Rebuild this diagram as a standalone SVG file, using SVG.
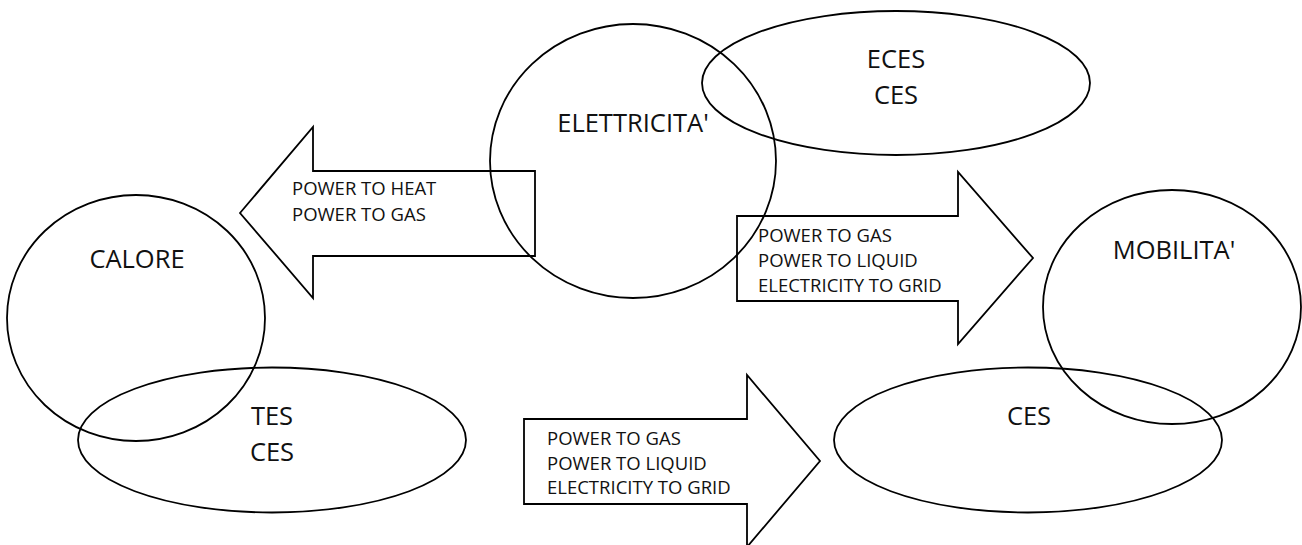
<svg xmlns="http://www.w3.org/2000/svg" width="1302" height="545" viewBox="0 0 1302 545">
  <style>
    .shape { fill: none; stroke: #000; stroke-width: 1.8; }
    .big { font-family: "Open Sans", "Liberation Sans", sans-serif; font-size: 25.5px; fill: #111; text-anchor: middle; }
    .small { font-family: "Open Sans", "Liberation Sans", sans-serif; font-size: 18.5px; fill: #111; }
  </style>
  <rect width="1302" height="545" fill="#fff"/>
  <g id="elettricita">
    <ellipse class="shape" cx="633" cy="161" rx="143" ry="137"/>
    <text class="big" x="633" y="132">ELETTRICITA'</text>
  </g>
  <g id="eces">
    <ellipse class="shape" cx="896" cy="83" rx="194" ry="72"/>
    <text class="big" x="896" y="68">ECES</text>
    <text class="big" x="896" y="104">CES</text>
  </g>
  <g id="calore">
    <ellipse class="shape" cx="136" cy="318" rx="129" ry="123"/>
    <text class="big" x="137" y="268">CALORE</text>
  </g>
  <g id="tes">
    <ellipse class="shape" cx="272" cy="440" rx="194" ry="72.5"/>
    <text class="big" x="272" y="425">TES</text>
    <text class="big" x="272" y="461">CES</text>
  </g>
  <g id="mobilita">
    <ellipse class="shape" cx="1172" cy="307" rx="129" ry="117"/>
    <text class="big" x="1174" y="259">MOBILITA'</text>
  </g>
  <g id="ces">
    <ellipse class="shape" cx="1028" cy="440" rx="194" ry="72.5"/>
    <text class="big" x="1029" y="425">CES</text>
  </g>
  <g id="connectors">
    <g id="arrow-heat">
      <polygon class="shape" points="240,213 313,127 313,171 535,171 535,256 313,256 313,298"/>
      <text class="small" x="292" y="195">POWER TO HEAT</text>
      <text class="small" x="292" y="221">POWER TO GAS</text>
    </g>
    <g id="arrow-mobility">
      <polygon class="shape" points="737,216 958,216 958,172 1033,258 958,344 958,301 737,301"/>
      <text class="small" x="758" y="242">POWER TO GAS</text>
      <text class="small" x="758" y="267">POWER TO LIQUID</text>
      <text class="small" x="758" y="292">ELECTRICITY TO GRID</text>
    </g>
    <g id="arrow-ces">
      <polygon class="shape" points="524,419 747,419 747,375 820,461 747,547 747,504 524,504"/>
      <text class="small" x="547" y="445">POWER TO GAS</text>
      <text class="small" x="547" y="470">POWER TO LIQUID</text>
      <text class="small" x="547" y="494">ELECTRICITY TO GRID</text>
    </g>
  </g>
</svg>
